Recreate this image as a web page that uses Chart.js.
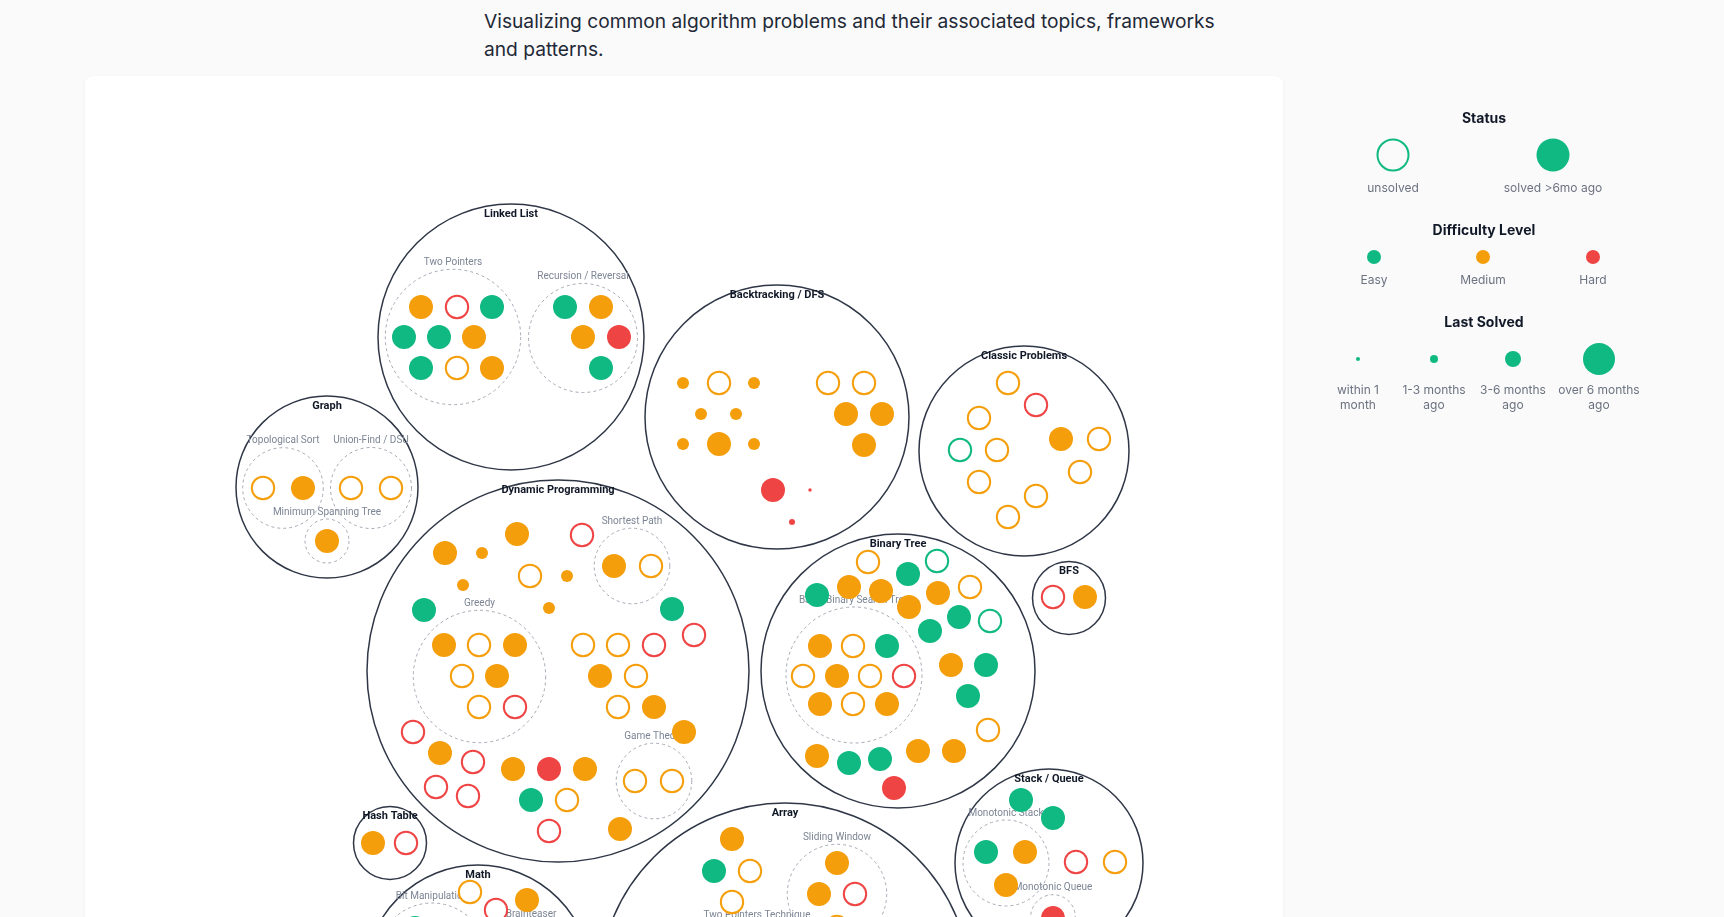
<!DOCTYPE html>
<html lang="en">
<head>
<meta charset="UTF-8">
<title>Algorithm problem map</title>
<style>
  html, body { margin: 0; padding: 0; background: #fafafa; font-family: Inter, "Noto Sans", sans-serif; }
  #page { position: relative; width: 1724px; height: 917px; overflow: hidden; }
  #intro { position: absolute; left: 484px; top: 7px; font-size: 19.2px; line-height: 28px; color: #1f2937; }
  #card { position: absolute; left: 85px; top: 76px; width: 1198px; height: 900px; background: #fff;
          border-radius: 8px; box-shadow: 0 1px 3px rgba(0,0,0,0.07); }
  #chart { position: absolute; left: 0; top: 0; }
  .lg { position: absolute; transform: translate(-50%, -50%); text-align: center; white-space: nowrap; }
  .lg-title { font-size: 14px; font-weight: 700; color: #111827; }
  .lg-text { font-size: 12px; color: #6b7280; line-height: 15px; }
  .dot { border-radius: 50%; box-sizing: border-box; }
</style>
</head>
<body>
<div id="page">
  <div id="intro">Visualizing common algorithm problems and their associated topics, frameworks<br>and patterns.</div>
  <div id="card"></div>
  <canvas id="chart" width="1724" height="917"></canvas>
</div>

<script src="https://cdn.jsdelivr.net/npm/chart.js"></script>
<script>
// topics (outer circles): name, centre and radius in layout units
const groupNames = ['Linked List', 'Graph', 'Backtracking / DFS', 'Classic Problems', 'Dynamic Programming',
  'Binary Tree', 'BFS', 'Hash Table', 'Math', 'Array', 'Stack / Queue'];
const groupX = [511, 327, 777, 1024, 558, 898, 1069, 390, 478, 785, 1049];
const groupY = [337, 487, 417, 451, 671, 671, 598, 843, 978, 989, 863];
const groupR = [133, 91, 132, 105, 191, 137, 36.5, 36.5, 113, 186, 94];

// patterns (dashed inner circles)
const subNames = ['Two Pointers', 'Recursion / Reversal', 'Topological Sort', 'Union-Find / DSU',
  'Minimum Spanning Tree', 'Shortest Path', 'Greedy', 'Game Theory', 'BST / Binary Search Tree',
  'Monotonic Stack', 'Monotonic Queue', 'Bit Manipulation', 'Brainteaser', 'Sliding Window',
  'Two Pointers Technique'];
const subX = [453, 583, 283, 371, 327, 632, 479.5, 654, 854, 1006, 1053, 432, 531, 837, 757];
const subY = [337, 338, 488, 488, 541, 566, 676.5, 781, 675, 863, 917, 958, 951, 894, 970];
const subR = [67.7, 54.5, 40.3, 40.5, 22, 37.8, 66.2, 37.8, 68, 43, 22.3, 55, 30, 49.7, 48];

// problems: [x, y, difficulty, last solved]
// difficulty E/M/H; last solved 0 = unsolved, 1 = <1 month, 2 = 1-3 months, 3 = 3-6 months, 4 = >6 months
const linkedList = [
  [421, 307, 'M', 4], [457, 307, 'H', 0], [492, 307, 'E', 4],
  [404, 337, 'E', 4], [439, 337, 'E', 4], [474, 337, 'M', 4],
  [421, 368, 'E', 4], [457, 368, 'M', 0], [492, 368, 'M', 4],
  [565, 307, 'E', 4], [601, 307, 'M', 4], [583, 337, 'M', 4], [619, 337, 'H', 4], [601, 368, 'E', 4]
];
const graph = [
  [263, 488, 'M', 0], [303, 488, 'M', 4], [351, 488, 'M', 0], [391, 488, 'M', 0], [327, 541, 'M', 4]
];
const backtracking = [
  [683, 383, 'M', 3], [719, 383, 'M', 0], [754, 383, 'M', 3], [701, 414, 'M', 3], [736, 414, 'M', 3],
  [683, 444, 'M', 3], [719, 444, 'M', 4], [754, 444, 'M', 3],
  [828, 383, 'M', 0], [864, 383, 'M', 0], [846, 414, 'M', 4], [882, 414, 'M', 4], [864, 445, 'M', 4],
  [773, 490, 'H', 4], [810, 490, 'H', 1], [792, 522, 'H', 2]
];
const classic = [
  [1008, 383, 'M', 0], [1036, 405, 'H', 0], [979, 418, 'M', 0], [1061, 439, 'M', 4], [1099, 439, 'M', 0],
  [960, 450, 'E', 0], [997, 450, 'M', 0], [1080, 472, 'M', 0], [979, 482, 'M', 0], [1036, 496, 'M', 0],
  [1008, 517, 'M', 0]
];
const dp = [
  [517, 534, 'M', 4], [445, 553, 'M', 4], [482, 553, 'M', 3], [582, 535, 'H', 0], [530, 576, 'M', 0],
  [567, 576, 'M', 3], [463, 585, 'M', 3], [424, 610, 'E', 4], [549, 608, 'M', 3], [672, 609, 'E', 4],
  [694, 635, 'H', 0], [583, 645, 'M', 0], [618, 645, 'M', 0], [654, 645, 'H', 0], [600, 676, 'M', 4],
  [636, 676, 'M', 0], [618, 707, 'M', 0], [654, 707, 'M', 4], [684, 732, 'M', 4], [413, 732, 'H', 0],
  [440, 753, 'M', 4], [473, 762, 'H', 0], [436, 787, 'H', 0], [468, 796, 'H', 0], [513, 769, 'M', 4],
  [549, 769, 'H', 4], [585, 769, 'M', 4], [531, 800, 'E', 4], [567, 800, 'M', 0], [549, 831, 'H', 0],
  [620, 829, 'M', 4],
  [614, 566, 'M', 4], [651, 566, 'M', 0],
  [444, 645, 'M', 4], [479, 645, 'M', 0], [515, 645, 'M', 4], [462, 676, 'M', 0], [497, 676, 'M', 4],
  [479, 707, 'M', 0], [515, 707, 'H', 0],
  [635, 781, 'M', 0], [672, 781, 'M', 0]
];
const binaryTree = [
  [868, 562, 'M', 0], [937, 561, 'E', 0], [908, 574, 'E', 4], [817, 595, 'E', 4], [849, 587, 'M', 4],
  [881, 591, 'M', 4], [938, 593, 'M', 4], [970, 587, 'M', 0], [909, 607, 'M', 4], [959, 617, 'E', 4],
  [990, 621, 'E', 0], [930, 631, 'E', 4], [951, 665, 'M', 4], [986, 665, 'E', 4], [968, 696, 'E', 4],
  [988, 730, 'M', 0], [817, 756, 'M', 4], [849, 763, 'E', 4], [880, 759, 'E', 4], [918, 751, 'M', 4],
  [954, 751, 'M', 4], [894, 788, 'H', 4],
  [820, 646, 'M', 4], [853, 646, 'M', 0], [887, 646, 'E', 4],
  [803, 676, 'M', 0], [837, 676, 'M', 4], [870, 676, 'M', 0], [904, 676, 'H', 0],
  [820, 704, 'M', 4], [853, 704, 'M', 0], [887, 704, 'M', 4]
];
const bfs = [[1053, 597, 'H', 0], [1085, 597, 'M', 4]];
const hashTable = [[373, 843, 'M', 4], [406, 843, 'H', 0]];
const math = [[470, 892, 'M', 0], [527, 900, 'M', 4], [496, 910, 'H', 0], [415, 928, 'E', 4]];
const array = [
  [732, 839, 'M', 4], [714, 871, 'E', 4], [750, 871, 'M', 0], [732, 902, 'M', 0],
  [837, 863, 'M', 4], [819, 894, 'M', 4], [855, 894, 'H', 0], [837, 927, 'M', 0]
];
const stackQueue = [
  [1021, 800, 'E', 4], [1053, 818, 'E', 4], [1076, 862, 'H', 0], [1115, 862, 'M', 0],
  [986, 852, 'E', 4], [1025, 852, 'M', 4], [1006, 885, 'M', 4], [1053, 918, 'H', 4]
];

// legend texts
const statusLabels = ['unsolved', 'solved >6mo ago'];
const difficultyLabels = ['Easy', 'Medium', 'Hard'];
const recencyLabels = ['within 1<br>month', '1-3 months<br>ago', '3-6 months<br>ago', 'over 6 months<br>ago'];

const W = 1724, H = 917;
const diffColor = { E: '#10b981', M: '#f59e0b', H: '#ef4444' };
const recencyRadius = [11.2, 1.7, 3, 6, 12];

const allProblems = [].concat(linkedList, graph, backtracking, classic, dp, binaryTree, bfs,
  hashTable, math, array, stackQueue);

const topicLabels = {
  id: 'topicLabels',
  beforeDatasetDraw(chart, args) {
    if (args.index === 1) chart.ctx.setLineDash([3, 3]);
  },
  afterDatasetDraw(chart, args) {
    const ctx = chart.ctx;
    const xs = chart.scales.x, ys = chart.scales.y;
    if (args.index === 1) ctx.setLineDash([]);
    ctx.save();
    ctx.textAlign = 'center';
    ctx.textBaseline = 'middle';
    if (args.index === 0) {
      ctx.font = 'bold 11px Roboto, sans-serif';
      ctx.fillStyle = '#111827';
      groupNames.forEach((n, i) => {
        const top = ys.getPixelForValue(groupY[i]) - groupR[i];
        ctx.fillText(n, xs.getPixelForValue(groupX[i]), top + 10);
      });
    } else if (args.index === 1) {
      ctx.font = '10px Roboto, sans-serif';
      ctx.fillStyle = '#7c8594';
      subNames.forEach((n, i) => {
        const top = ys.getPixelForValue(subY[i]) - subR[i];
        ctx.fillText(n, xs.getPixelForValue(subX[i]), top - 7);
      });
    }
    ctx.restore();
  }
};

new Chart(document.getElementById('chart'), {
  type: 'bubble',
  data: {
    datasets: [
      {
        label: 'topics',
        order: 3,
        data: groupNames.map((n, i) => ({ x: groupX[i], y: groupY[i], r: groupR[i] })),
        backgroundColor: 'rgba(0,0,0,0)',
        borderColor: '#2f3747',
        borderWidth: 1.5
      },
      {
        label: 'patterns',
        order: 2,
        data: subNames.map((n, i) => ({ x: subX[i], y: subY[i], r: subR[i] })),
        backgroundColor: 'rgba(0,0,0,0)',
        borderColor: '#a3a9b3',
        borderWidth: 1
      },
      {
        label: 'problems',
        order: 1,
        data: allProblems.map(p => ({ x: p[0], y: p[1], r: recencyRadius[p[3]], d: p[2], s: p[3] })),
        backgroundColor: c => c.raw.s === 0 ? '#ffffff' : diffColor[c.raw.d],
        borderColor: c => diffColor[c.raw.d],
        borderWidth: c => c.raw.s === 0 ? 2 : 0
      }
    ]
  },
  options: {
    responsive: false,
    animation: false,
    events: [],
    layout: { padding: 0, autoPadding: false },
    scales: {
      x: { type: 'linear', min: 0, max: W, bounds: 'data', display: false },
      y: { type: 'linear', min: 0, max: H, bounds: 'data', reverse: true, display: false }
    },
    plugins: { legend: { display: false }, tooltip: { enabled: false } }
  },
  plugins: [topicLabels]
});

// legend panel
const page = document.getElementById('page');
function put(html, x, y, cls, style) {
  const el = document.createElement('div');
  el.className = 'lg ' + cls;
  el.style.left = x + 'px';
  el.style.top = y + 'px';
  if (style) Object.assign(el.style, style);
  el.innerHTML = html;
  page.appendChild(el);
}
function dot(x, y, r, color, hollow) {
  put('', x, y, 'dot', {
    width: 2 * r + 'px', height: 2 * r + 'px',
    background: hollow ? 'transparent' : color,
    border: hollow ? '2px solid ' + color : 'none'
  });
}

put('Status', 1484, 117, 'lg-title');
[1393, 1553].forEach((x, i) => {
  dot(x, 155, 16.5, diffColor.E, i === 0);
  put(statusLabels[i], x, 187, 'lg-text');
});

put('Difficulty Level', 1484, 229, 'lg-title');
['E', 'M', 'H'].forEach((k, i) => {
  const x = [1374, 1483, 1593][i];
  dot(x, 257, 7, diffColor[k], false);
  put(difficultyLabels[i], x, 279, 'lg-text');
});

put('Last Solved', 1484, 321, 'lg-title');
[[1358, 2], [1434, 4], [1513, 8], [1599, 16]].forEach((p, i) => {
  dot(p[0], 359, p[1], diffColor.E, false);
  put(recencyLabels[i], p[0], 397, 'lg-text');
});
</script>
</body>
</html>
